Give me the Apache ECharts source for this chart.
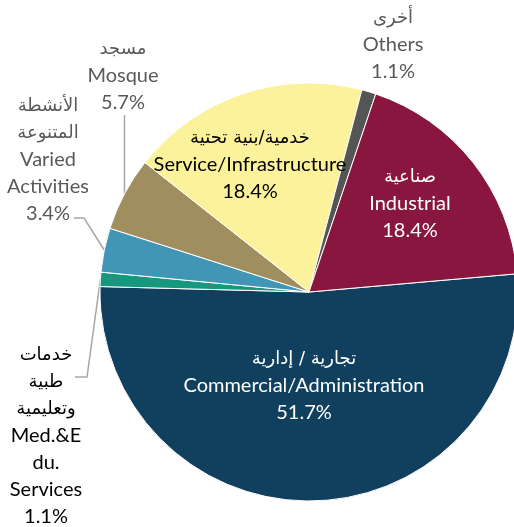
<!DOCTYPE html>
<html>
<head>
<meta charset="utf-8">
<script src="https://cdn.jsdelivr.net/npm/echarts@6/dist/echarts.min.js"></script>
<style>
  html, body { margin: 0; padding: 0; background: #fff; }
  #chart { width: 514px; height: 527px; }
</style>
</head>
<body>
<div id="chart"></div>
<script>
// slices in clockwise order, starting at the right edge
var arabicNames = ['تجارية / إدارية', 'خدمات\nطبية\nوتعليمية', 'الأنشطة\nالمتنوعة', 'مسجد', 'خدمية/بنية تحتية', 'أخرى', 'صناعية'];
var englishNames = ['Commercial/Administration', 'Med.&E\ndu.\nServices', 'Varied\nActivities', 'Mosque', 'Service/Infrastructure', 'Others', 'Industrial'];
var shares = [51.7, 1.1, 3.4, 5.7, 18.4, 1.1, 18.4];

var colors = ['#11405f', '#16977e', '#4195b5', '#a08e5f', '#fdf29c', '#555555', '#89163e'];
var labelColors = ['#ffffff', '#000000', '#595959', '#595959', '#000000', '#595959', '#ffffff'];
var insideLabel = [true, false, false, false, true, false, true];

// where each label block is centred
var labelAnchors = [[304, 386], [46, 436], [48, 160], [123, 76], [250, 165], [393, 45], [410, 204]];

var chart = echarts.init(document.getElementById('chart'));

var seriesData = shares.map(function (v, i) {
  return {
    value: v,
    name: englishNames[i],
    itemStyle: { color: colors[i] },
    label: {
      position: insideLabel[i] ? 'inside' : 'outside',
      color: labelColors[i],
      formatter: '{ar|' + arabicNames[i] + '}\n{en|' + englishNames[i] + '}\n{en|' + v.toFixed(1) + '%}'
    },
    labelLine: { show: !insideLabel[i] && i !== 5 }
  };
});

var option = {
  animation: false,
  series: [{
    type: 'pie',
    center: [309, 292],
    radius: 209,
    startAngle: 5,
    clockwise: true,
    avoidLabelOverlap: false,
    itemStyle: { borderColor: '#ffffff', borderWidth: 1 },
    label: {
      fontFamily: 'Lato, "DejaVu Sans", sans-serif',
      fontSize: 20,
      lineHeight: 27,
      align: 'center',
      rich: {
        ar: { fontFamily: '"DejaVu Sans", sans-serif', fontSize: 18, lineHeight: 27, align: 'center' },
        en: { fontFamily: 'Lato, sans-serif', fontSize: 20, lineHeight: 27, align: 'center' }
      }
    },
    labelLine: {
      length: 10,
      length2: 10,
      lineStyle: { color: '#a6a6a6', width: 1.5 }
    },
    labelLayout: function (params) {
      var i = params.dataIndex;
      var a = labelAnchors[i];
      var out = { x: a[0], y: a[1], align: 'center', verticalAlign: 'middle' };
      var p = params.labelLinePoints;
      if (p && p.length) {
        var s = p[0];
        if (i === 3) {
          out.labelLinePoints = [s, [s[0], 150], [s[0], 115]];
        } else if (i === 2) {
          out.labelLinePoints = [s, [84, 218], [74, 218]];
        } else if (i === 1) {
          out.labelLinePoints = [s, [87, 377], [75, 377]];
        }
      }
      return out;
    },
    data: seriesData
  }]
};

chart.setOption(option);
</script>
</body>
</html>
